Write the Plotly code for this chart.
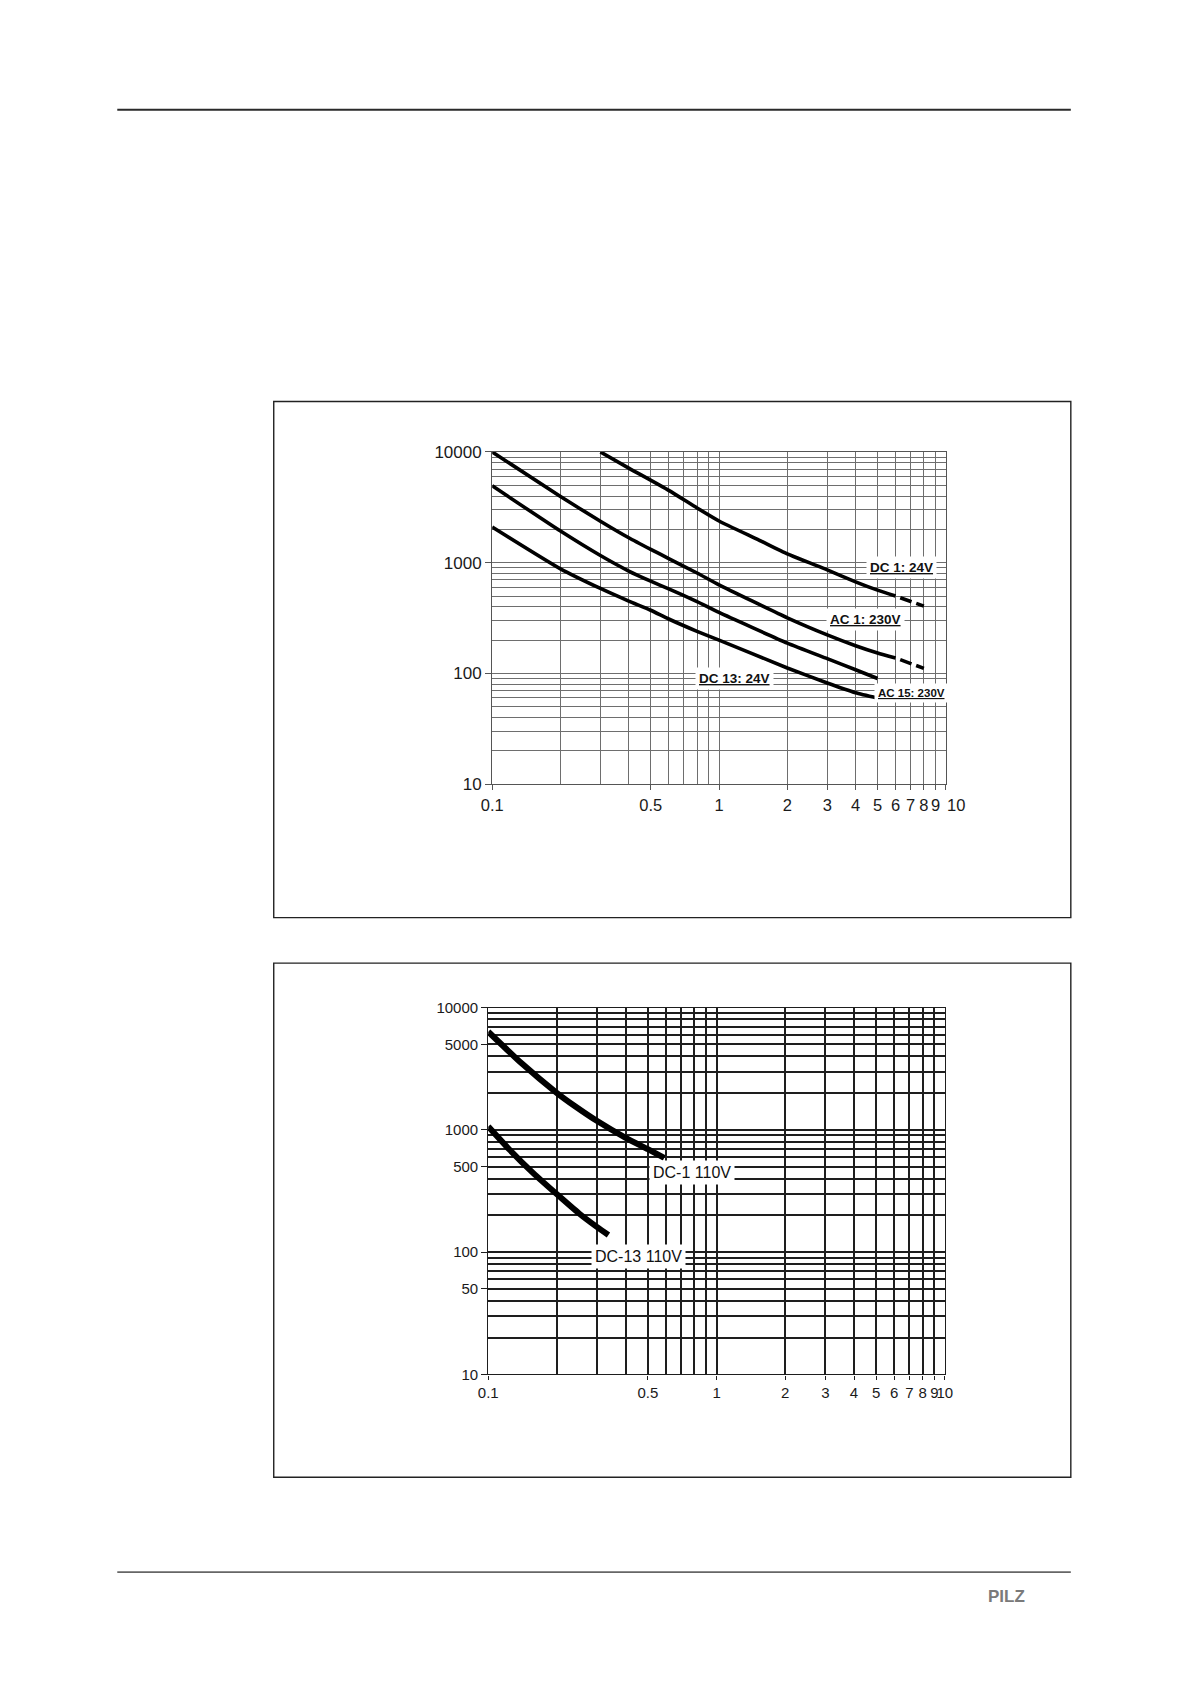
import plotly.graph_objects as go
import math

# ---------------- data ----------------
# Top chart
dc1_24_x = [0.3, 0.4, 0.6, 0.8, 1.0, 1.5, 2.0, 3.0, 4.0, 5.0, 6.0]
dc1_24_y = [10000, 7150, 4500, 3120, 2380, 1600, 1200, 860, 672, 565, 500]
dc1_24_ext_x = [6.0, 8.0]
dc1_24_ext_y = [500, 405]

ac1_230_x = [0.1, 0.2, 0.3, 0.4, 0.5, 0.6, 0.8, 1.0, 2.0, 3.0, 4.0, 5.0, 6.0]
ac1_230_y = [10000, 3960, 2370, 1680, 1320, 1090, 807, 630, 318, 223, 178, 153, 138]
ac1_230_ext_x = [6.0, 8.0]
ac1_230_ext_y = [138, 111]

dc13_24_x = [0.1, 0.2, 0.3, 0.4, 0.5, 0.6, 0.8, 1.0, 2.0, 3.0, 4.0, 5.0]
dc13_24_y = [4950, 1930, 1160, 840, 680, 580, 445, 355, 188, 136, 108, 90]

ac15_230_x = [0.1, 0.2, 0.3, 0.4, 0.5, 0.6, 0.8, 1.0, 2.0, 3.0, 4.0, 5.0]
ac15_230_y = [2100, 880, 585, 450, 372, 310, 240, 200, 112, 82, 67, 60]

# Bottom chart
dc1_110_x = [0.1, 0.14, 0.2, 0.24, 0.3, 0.4, 0.5, 0.59]
dc1_110_y = [6350, 3500, 2000, 1560, 1180, 860, 695, 590]

dc13_110_x = [0.1, 0.124, 0.157, 0.2, 0.25, 0.3, 0.336]
dc13_110_y = [1064, 688, 445, 297, 207, 160, 138]

# Tick labels
x_tick_vals = [0.1, 0.5, 1, 2, 3, 4, 5, 6, 7, 8, 9, 10]
x_tick_text = ["0.1", "0.5", "1", "2", "3", "4", "5", "6", "7", "8", "9", "10"]
y_top_ticks = [10, 100, 1000, 10000]
y_bot_ticks = [10, 50, 100, 500, 1000, 5000, 10000]

x_minor = [m * 10 ** e for e in (-1, 0) for m in range(1, 10)] + [10]
y_minor = [m * 10 ** e for e in (1, 2, 3) for m in range(1, 10)] + [10000]

# ---------------- figure ----------------
W, H = 1191, 1684
FONT = "Liberation Sans, Arial, sans-serif"


def px_x(v):
    return v / W


def px_y(v):
    return 1 - v / H


fig = go.Figure()

top_line = dict(color="black", width=3.6, shape="spline", smoothing=0.5)
for xs, ys in [(dc1_24_x, dc1_24_y), (ac1_230_x, ac1_230_y),
               (dc13_24_x, dc13_24_y), (ac15_230_x, ac15_230_y)]:
    fig.add_trace(go.Scatter(x=xs, y=ys, mode="lines", line=top_line,
                             xaxis="x", yaxis="y", showlegend=False, hoverinfo="skip"))
for xs, ys in [(dc1_24_ext_x, dc1_24_ext_y), (ac1_230_ext_x, ac1_230_ext_y)]:
    fig.add_trace(go.Scatter(x=xs, y=ys, mode="lines",
                             line=dict(color="black", width=3.6, dash="0px,5px,12px,0px"),
                             xaxis="x", yaxis="y", showlegend=False, hoverinfo="skip"))

bot_line = dict(color="black", width=6, shape="spline", smoothing=0.5)
for xs, ys in [(dc1_110_x, dc1_110_y), (dc13_110_x, dc13_110_y)]:
    fig.add_trace(go.Scatter(x=xs, y=ys, mode="lines", line=bot_line,
                             xaxis="x2", yaxis="y2", showlegend=False, hoverinfo="skip"))


def xaxis(domain, anchor, fontsize, gridcolor, gridwidth, linecolor, ticklen, standoff,
          ticktext):
    return dict(type="log", domain=domain, anchor=anchor, range=[-1, 1],
                tickmode="array", tickvals=x_tick_vals, ticktext=ticktext,
                tickangle=0, ticklabelstandoff=standoff,
                ticks="outside", ticklen=ticklen, tickcolor=linecolor, tickwidth=1,
                tickfont=dict(family=FONT, size=fontsize, color="#1a1a1a"),
                showgrid=True, gridcolor=gridcolor, gridwidth=gridwidth,
                minor=dict(tickvals=x_minor, showgrid=True, gridcolor=gridcolor,
                           gridwidth=gridwidth, ticks=""),
                showline=True, linecolor=linecolor, linewidth=1.2, mirror=True,
                zeroline=False, fixedrange=True)


def yaxis(domain, anchor, ticks, fontsize, gridcolor, gridwidth, linecolor):
    return dict(type="log", domain=domain, anchor=anchor, range=[1, 4],
                tickmode="array", tickvals=ticks, ticktext=[str(t) for t in ticks],
                ticks="outside", ticklen=6, tickcolor=linecolor, tickwidth=1,
                tickfont=dict(family=FONT, size=fontsize, color="#1a1a1a"),
                showgrid=True, gridcolor=gridcolor, gridwidth=gridwidth,
                minor=dict(tickvals=y_minor, showgrid=True, gridcolor=gridcolor,
                           gridwidth=gridwidth, ticks=""),
                showline=True, linecolor=linecolor, linewidth=1.2, mirror=True,
                zeroline=False, fixedrange=True)


# top chart: the last label ("10") is drawn as an annotation nudged right,
# as in the reference where it sits just after the "9"
top_ticktext = x_tick_text[:-1] + [""]

fig.update_layout(
    width=W, height=H,
    margin=dict(l=0, r=0, t=0, b=0),
    paper_bgcolor="white", plot_bgcolor="white",
    showlegend=False,
    xaxis=xaxis([px_x(489), px_x(950)], "y", 16.5, "#6e6e6e", 1, "#555555", 5, 1,
                top_ticktext),
    yaxis=yaxis([px_y(784), px_y(448)], "x", y_top_ticks, 17, "#6e6e6e", 1, "#555555"),
    xaxis2=xaxis([px_x(485), px_x(949)], "y2", 15, "#1e1e1e", 1.5, "#1e1e1e", 4, 0,
                 x_tick_text),
    yaxis2=yaxis([px_y(1381), px_y(1010)], "x2", y_bot_ticks, 15, "#1e1e1e", 1.5, "#1e1e1e"),
)

# ---------------- page frame ----------------
shapes = [
    dict(type="line", xref="paper", yref="paper", x0=px_x(108), x1=px_x(1077),
         y0=px_y(102), y1=px_y(102), line=dict(color="#2a2a2a", width=2)),
    dict(type="line", xref="paper", yref="paper", x0=px_x(108), x1=px_x(1077),
         y0=px_y(1581), y1=px_y(1581), line=dict(color="#666666", width=1.6)),
    dict(type="rect", xref="paper", yref="paper", x0=px_x(267), x1=px_x(1077),
         y0=px_y(919), y1=px_y(397), line=dict(color="#222222", width=1.4)),
    dict(type="rect", xref="paper", yref="paper", x0=px_x(267), x1=px_x(1077),
         y0=px_y(1485), y1=px_y(965), line=dict(color="#222222", width=1.4)),
]
fig.update_layout(shapes=shapes)

# ---------------- labels ----------------
def lbl(text, x, y, xref, yref, size, bold, underline):
    return dict(text=(f"<b>{text}</b>" if bold else text),
                x=math.log10(x), y=math.log10(y), xref=xref, yref=yref,
                xanchor="center", yanchor="middle",
                showarrow=False, bgcolor="white", borderpad=3,
                font=dict(family=FONT, size=size, color="#111111",
                          lineposition=("under" if underline else "none")))


annotations = [
    lbl("DC 1: 24V", 6.35, 900, "x", "y", 13.5, True, True),
    lbl("AC 1: 230V", 4.41, 308, "x", "y", 13.5, True, True),
    lbl("AC 15: 230V", 7.05, 66, "x", "y", 11.5, True, True),
    lbl("DC 13: 24V", 1.167, 90, "x", "y", 13.5, True, True),
    lbl("DC-1 110V", 0.78, 450, "x2", "y2", 16, False, False),
    lbl("DC-13 110V", 0.456, 92, "x2", "y2", 16, False, False),
    dict(text=x_tick_text[-1], x=math.log10(x_tick_vals[-1]), xref="x",
         y=px_y(805), yref="paper", xanchor="left", yanchor="middle",
         xshift=-1, showarrow=False,
         font=dict(family=FONT, size=16.5, color="#1a1a1a")),
    dict(text="<b>PILZ</b>", x=px_x(1012), y=px_y(1606), xref="paper", yref="paper",
         xanchor="center", yanchor="middle", showarrow=False,
         font=dict(family="Liberation Sans Narrow, Liberation Sans, Arial", size=17,
                   color="#7a7a7a")),
]
fig.update_layout(annotations=annotations)

fig.write_html("out.html", config={"displayModeBar": False},
               post_script="document.body.style.margin='0';")
